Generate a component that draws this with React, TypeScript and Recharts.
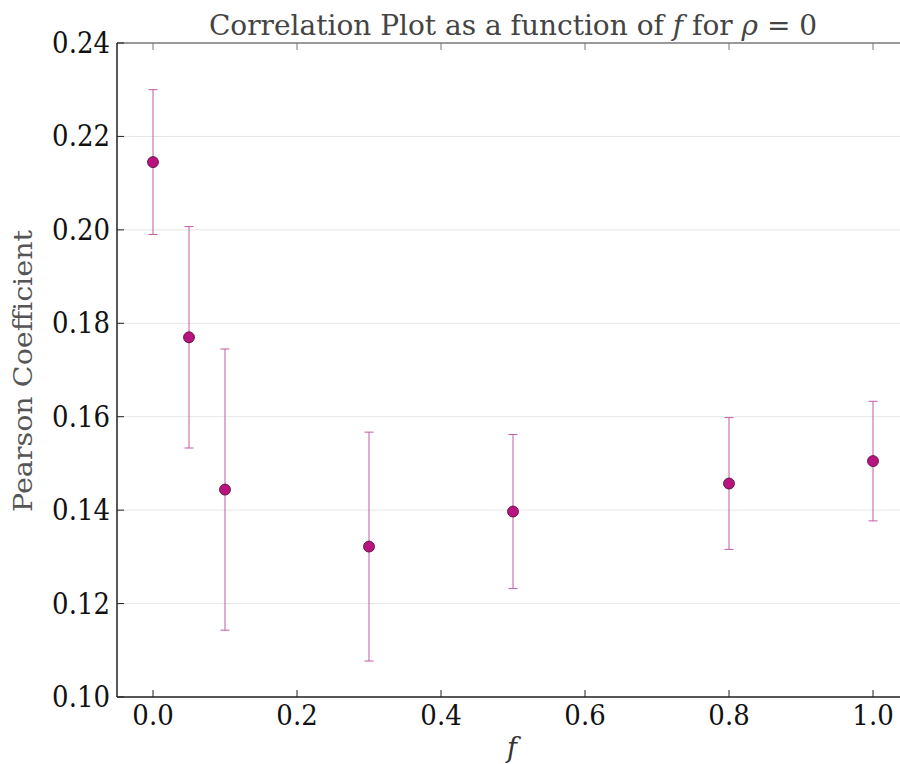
import React from "react";
import {
  ScatterChart,
  Scatter,
  XAxis,
  YAxis,
  CartesianGrid,
  ErrorBar,
} from "recharts";

// mixing fraction f and the measured Pearson coefficient (rho = 0)
const fValues = [0.0, 0.05, 0.1, 0.3, 0.5, 0.8, 1.0];
const pearson = [0.2145, 0.177, 0.1444, 0.1322, 0.1397, 0.1457, 0.1505];
const pearsonErr = [0.0155, 0.0237, 0.0301, 0.0245, 0.0165, 0.0141, 0.0128];

const xTicks = [0.0, 0.2, 0.4, 0.6, 0.8, 1.0];
const yTicks = [0.1, 0.12, 0.14, 0.16, 0.18, 0.2, 0.22, 0.24];

const data = fValues.map((f, i) => ({ f, r: pearson[i], err: pearsonErr[i] }));

const SERIF = "'DejaVu Serif', serif";
const TICK_LEN = 7;

const BottomTick = (props: any) => {
  const { x, y, payload } = props;
  return (
    <g>
      <line x1={x} y1={y} x2={x} y2={y - TICK_LEN} stroke="#222" strokeWidth={1} />
      <text
        transform={`translate(${x}, ${y + 28}) scale(1, 1.08)`}
        textAnchor="middle"
        fontFamily={SERIF}
        fontSize={26}
        fill="#111"
      >
        {payload.value.toFixed(1)}
      </text>
    </g>
  );
};

const TopTick = (props: any) => {
  const { x, y } = props;
  return <line x1={x} y1={y} x2={x} y2={y + TICK_LEN} stroke="#777" strokeWidth={1} />;
};

const LeftTick = (props: any) => {
  const { x, y, payload } = props;
  return (
    <g>
      <line x1={x} y1={y} x2={x + TICK_LEN} y2={y} stroke="#222" strokeWidth={1} />
      <text
        transform={`translate(${x - 7}, ${y + 10}) scale(1, 1.12)`}
        textAnchor="end"
        fontFamily={SERIF}
        fontSize={26}
        fill="#111"
      >
        {payload.value.toFixed(2)}
      </text>
    </g>
  );
};

const Dot = (props: any) => {
  const { cx, cy } = props;
  return <circle cx={cx} cy={cy} r={5.5} fill="#b8137f" stroke="#4d0a33" strokeWidth={0.8} />;
};

export default function App() {
  return (
    <div style={{ position: "absolute", left: 0, top: 0, width: 900, height: 764, overflow: "hidden", background: "#fff" }}>
      <ScatterChart width={920} height={764} margin={{ top: 0, right: 11, bottom: 0, left: 0 }}>
        <CartesianGrid stroke="#e6e6e6" strokeWidth={1} horizontalValues={yTicks} verticalValues={xTicks} />
        <XAxis
          xAxisId="bottom"
          type="number"
          dataKey="f"
          domain={[-0.05, 1.05]}
          ticks={xTicks}
          allowDataOverflow
          height={67}
          tickSize={0}
          tickMargin={0}
          tickLine={false}
          axisLine={{ stroke: "#222", strokeWidth: 1.5 }}
          tick={<BottomTick />}
        />
        <XAxis
          xAxisId="top"
          orientation="top"
          type="number"
          dataKey="f"
          domain={[-0.05, 1.05]}
          ticks={xTicks}
          allowDataOverflow
          height={43}
          tickSize={0}
          tickMargin={0}
          tickLine={false}
          axisLine={{ stroke: "#999", strokeWidth: 2 }}
          tick={<TopTick />}
        />
        <YAxis
          type="number"
          dataKey="r"
          domain={[0.1, 0.24]}
          ticks={yTicks}
          allowDataOverflow
          width={117}
          tickSize={0}
          tickMargin={0}
          tickLine={false}
          axisLine={{ stroke: "#222", strokeWidth: 1.5 }}
          tick={<LeftTick />}
        />
        <Scatter data={data} xAxisId="bottom" fill="#b8137f" shape={<Dot />} isAnimationActive={false}>
          <ErrorBar dataKey="err" direction="y" width={4.5} stroke="#c25aa3" strokeWidth={1} />
        </Scatter>
      </ScatterChart>
      <svg width={900} height={764} style={{ position: "absolute", left: 0, top: 0, pointerEvents: "none" }}>
        <text x={513} y={35} textAnchor="middle" fontFamily={SERIF} fontSize={28} fill="#444">
          Correlation Plot as a function of <tspan fontStyle="italic">f</tspan> for <tspan fontStyle="italic">ρ</tspan> = 0
        </text>
        <text
          x={0}
          y={0}
          transform="translate(32, 371) rotate(-90) scale(1.12, 1)"
          textAnchor="middle"
          fontFamily={SERIF}
          fontSize={25.5}
          fill="#555"
        >
          Pearson Coefficient
        </text>
        <text x={512} y={757} textAnchor="middle" fontFamily={SERIF} fontStyle="italic" fontSize={27} fill="#333">
          f
        </text>
      </svg>
    </div>
  );
}
